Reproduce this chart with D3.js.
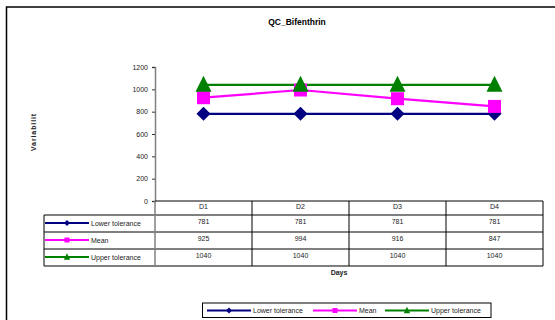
<!DOCTYPE html>
<html>
<head>
<meta charset="utf-8">
<script src="https://cdn.jsdelivr.net/npm/d3@7"></script>
<style>
  html, body { margin: 0; padding: 0; background: #fff; }
  svg { display: block; font-family: "Liberation Sans", Arial, sans-serif; }
</style>
</head>
<body>
<svg id="chart" width="555" height="320"></svg>
<script>
// QC chart for Bifenthrin: tolerance limits and daily mean
const days = ["D1", "D2", "D3", "D4"];
const lowerTolerance = [781, 781, 781, 781];
const meanValues = [925, 994, 916, 847];
const upperTolerance = [1040, 1040, 1040, 1040];
const yTicks = [0, 200, 400, 600, 800, 1000, 1200];

const series = [
  { name: "Lower tolerance", values: lowerTolerance, color: "#000080", shape: "diamond" },
  { name: "Mean", values: meanValues, color: "#FF00FF", shape: "square" },
  { name: "Upper tolerance", values: upperTolerance, color: "#008000", shape: "triangle" }
];

const svg = d3.select("#chart");

// outer frame (runs off the right and bottom edges)
svg.append("rect").attr("x", 6.5).attr("y", 7).attr("width", 600).attr("height", 400)
  .attr("fill", "none").attr("stroke", "#000").attr("stroke-width", 1.5);

const plotLeft = 155, plotRight = 543, plotTop = 67, plotBottom = 201;

const x = d3.scaleBand().domain(days).range([plotLeft, plotRight]);
const y = d3.scaleLinear().domain([0, 1200]).range([plotBottom, plotTop]);

// title
svg.append("text").attr("x", 297).attr("y", 25).attr("text-anchor", "middle")
  .attr("font-size", 8.5).attr("font-weight", "bold").text("QC_Bifenthrin");

// y axis label
svg.append("text").attr("transform", "translate(36,132) rotate(-90)")
  .attr("text-anchor", "middle").attr("font-size", 7).attr("font-weight", "bold")
  .attr("letter-spacing", 0.9).attr("fill", "#222").text("Variabilit");

// y axis
const yAxis = d3.axisLeft(y).tickValues(yTicks).tickFormat(d3.format("d")).tickSize(3).tickPadding(4);
const gy = svg.append("g").attr("transform", `translate(${plotLeft},0)`).call(yAxis);
gy.select(".domain").attr("stroke", "#808080").attr("stroke-width", 1.5);
gy.selectAll(".tick line").attr("stroke", "#333");
gy.selectAll(".tick text").attr("font-size", 7).attr("fill", "#222")
  .attr("font-family", "Liberation Sans, Arial, sans-serif");

// data table below the plot
const rowLines = [201, 215, 232, 249, 266];
const tableLeft = 44;
const table = svg.append("g").attr("stroke", "#000").attr("stroke-width", 1);
table.append("line").attr("x1", plotLeft).attr("x2", plotRight).attr("y1", rowLines[0]).attr("y2", rowLines[0]);
rowLines.slice(1).forEach(r => {
  table.append("line").attr("x1", tableLeft).attr("x2", plotRight).attr("y1", r).attr("y2", r);
});
table.append("line").attr("x1", tableLeft).attr("x2", tableLeft).attr("y1", rowLines[1]).attr("y2", rowLines[4]);
days.forEach(d => {
  const xr = x(d) + x.bandwidth();
  table.append("line").attr("x1", xr).attr("x2", xr).attr("y1", rowLines[0]).attr("y2", rowLines[4]);
});
// axis line continues through the table
svg.append("line").attr("x1", plotLeft).attr("x2", plotLeft).attr("y1", rowLines[0]).attr("y2", rowLines[4])
  .attr("stroke", "#808080").attr("stroke-width", 1.5);

// header
svg.selectAll("text.day").data(days).join("text").attr("class", "day")
  .attr("x", d => x(d) + x.bandwidth() / 2).attr("y", 208.5)
  .attr("text-anchor", "middle").attr("font-size", 7).attr("fill", "#222").text(d => d);

// marker path helper
function markerPath(shape, s) {
  if (shape === "diamond") return `M0,${-s}L${s},0L0,${s}L${-s},0Z`;
  if (shape === "square") return `M${-s},${-s}H${s}V${s}H${-s}Z`;
  return `M0,${-s * 1.15}L${s},${s * 0.85}H${-s}Z`;
}
const markerSize = { diamond: 7, square: 6.5, triangle: 8 };
const keySize = { diamond: 3, square: 2.5, triangle: 3.2 };

series.forEach((s, i) => {
  const rowTop = rowLines[i + 1];
  // value cells
  svg.selectAll(null).data(s.values).join("text")
    .attr("x", (v, j) => x(days[j]) + x.bandwidth() / 2).attr("y", rowTop + 8.5)
    .attr("text-anchor", "middle").attr("font-size", 7).attr("fill", "#222").text(v => v);
  // legend key in the row
  const ky = rowTop + 8;
  svg.append("line").attr("x1", 45).attr("x2", 89).attr("y1", ky).attr("y2", ky)
    .attr("stroke", s.color).attr("stroke-width", 2);
  svg.append("path").attr("d", markerPath(s.shape, keySize[s.shape]))
    .attr("transform", `translate(67,${ky})`).attr("fill", s.color);
  svg.append("text").attr("x", 91).attr("y", ky + 2.5).attr("font-size", 7).attr("fill", "#222").text(s.name);
});

// series lines and markers
const line = d3.line().x((v, j) => x(days[j]) + x.bandwidth() / 2).y(v => y(v));
series.forEach(s => {
  svg.append("path").datum(s.values).attr("d", line).attr("fill", "none")
    .attr("stroke", s.color).attr("stroke-width", 2.2);
});
series.forEach(s => {
  svg.selectAll(null).data(s.values).join("path")
    .attr("d", markerPath(s.shape, markerSize[s.shape]))
    .attr("transform", (v, j) => `translate(${x(days[j]) + x.bandwidth() / 2},${y(v)})`)
    .attr("fill", s.color);
});

// x axis title
svg.append("text").attr("x", 339).attr("y", 275).attr("text-anchor", "middle")
  .attr("font-size", 7).attr("font-weight", "bold").attr("fill", "#222").text("Days");

// bottom legend
const legend = svg.append("g");
legend.append("rect").attr("x", 202.5).attr("y", 303).attr("width", 288.5).attr("height", 14.5)
  .attr("fill", "none").attr("stroke", "#000").attr("stroke-width", 1);
const legendX = [207, 313, 385];
series.forEach((s, i) => {
  const lx = legendX[i], ly = 310.5;
  legend.append("line").attr("x1", lx).attr("x2", lx + 44).attr("y1", ly).attr("y2", ly)
    .attr("stroke", s.color).attr("stroke-width", 2);
  legend.append("path").attr("d", markerPath(s.shape, keySize[s.shape]))
    .attr("transform", `translate(${lx + 22},${ly})`).attr("fill", s.color);
  legend.append("text").attr("x", lx + 46).attr("y", ly + 2.5).attr("font-size", 7)
    .attr("fill", "#222").text(s.name);
});
</script>
</body>
</html>
